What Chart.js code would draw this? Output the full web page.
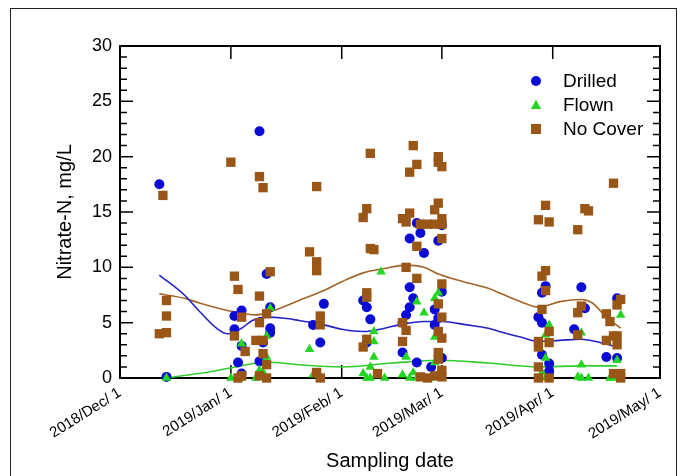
<!DOCTYPE html>
<html>
<head>
<meta charset="utf-8">
<script src="https://cdn.jsdelivr.net/npm/chart.js@4/dist/chart.umd.min.js"></script>
<style>
  body { margin: 0; background: #fff; }
  #wrap { position: relative; width: 685px; height: 476px; }
</style>
</head>
<body>
<div id="wrap"><canvas id="myChart" width="685" height="476"></canvas></div>
<script>
// month ticks on the date axis
const monthDates = ['2018-12-01', '2019-01-01', '2019-02-01', '2019-03-01', '2019-04-01', '2019-05-01'];
const monthLabels = ['2018/Dec/ 1', '2019/Jan/ 1', '2019/Feb/ 1', '2019/Mar/ 1', '2019/Apr/ 1', '2019/May/ 1'];
const seriesNames = ['Drilled', 'Flown', 'No Cover'];

// [sampling date, nitrate-N mg/L]
const drilled = [
  ['2018-12-12', 17.5], ['2018-12-14', 0.1],
  ['2019-01-09', 22.3], ['2019-01-11', 9.4], ['2019-01-04', 6.1], ['2019-01-02', 5.6], ['2019-01-12', 6.4],
  ['2019-01-02', 4.4], ['2019-01-12', 4.5], ['2019-01-12', 4.1], ['2019-01-10', 3.2], ['2019-01-04', 2.9],
  ['2019-01-03', 1.4], ['2019-01-09', 1.5], ['2019-01-04', 0.4],
  ['2019-01-27', 6.7], ['2019-01-24', 4.8], ['2019-01-26', 3.2], ['2019-02-07', 7.0], ['2019-02-08', 6.4],
  ['2019-02-09', 5.3], ['2019-02-08', 3.2],
  ['2019-02-22', 14.0], ['2019-03-01', 13.8], ['2019-02-23', 13.1], ['2019-02-20', 12.6], ['2019-02-28', 12.4],
  ['2019-02-24', 11.3], ['2019-02-20', 8.2], ['2019-03-01', 7.8], ['2019-02-21', 7.2], ['2019-02-20', 6.4],
  ['2019-02-27', 6.2], ['2019-02-19', 5.7], ['2019-02-28', 5.4], ['2019-02-18', 5.0], ['2019-02-27', 4.8],
  ['2019-02-18', 2.3], ['2019-03-01', 1.8], ['2019-02-22', 1.4], ['2019-02-26', 1.0],
  ['2019-03-30', 8.3], ['2019-03-29', 7.7], ['2019-04-09', 8.2], ['2019-04-19', 7.2], ['2019-04-10', 6.3],
  ['2019-03-28', 5.5], ['2019-03-29', 5.0], ['2019-04-07', 4.4], ['2019-03-29', 2.1], ['2019-04-16', 1.9],
  ['2019-04-19', 1.8], ['2019-03-31', 1.3], ['2019-03-31', 0.6]
];

const flown = [
  ['2018-12-14', 0],
  ['2019-01-12', 6.3], ['2019-01-11', 3.8], ['2019-01-04', 3.1], ['2019-01-11', 1.9], ['2019-01-11', 1.4],
  ['2019-01-09', 0.7], ['2019-01-10', 0.5], ['2019-01-01', 0], ['2019-01-04', 0], ['2019-01-08', 0], ['2019-01-11', 0],
  ['2019-01-23', 2.6], ['2019-01-24', 0.3], ['2019-02-12', 9.6], ['2019-02-10', 4.2], ['2019-02-10', 3.3],
  ['2019-02-10', 1.9], ['2019-02-09', 1.0], ['2019-02-07', 0.4], ['2019-02-08', 0], ['2019-02-09', 0], ['2019-02-13', 0],
  ['2019-02-28', 7.7], ['2019-02-27', 7.2], ['2019-02-22', 6.9], ['2019-02-24', 5.9], ['2019-02-27', 3.7],
  ['2019-02-19', 1.9], ['2019-02-27', 1.4], ['2019-02-18', 0.3], ['2019-02-20', 0], ['2019-02-21', 0.5],
  ['2019-02-22', 0], ['2019-02-26', 0], ['2019-03-01', 0],
  ['2019-03-31', 4.8], ['2019-03-30', 3.9], ['2019-03-30', 1.8], ['2019-03-29', 0.5], ['2019-03-30', 0],
  ['2019-04-09', 4.1], ['2019-04-09', 1.2], ['2019-04-08', 0.1], ['2019-04-09', 0], ['2019-04-11', 0],
  ['2019-04-20', 5.7], ['2019-04-19', 1.6], ['2019-04-17', 0], ['2019-04-18', 0]
];

const noCover = [
  ['2018-12-13', 16.5], ['2018-12-14', 7.0], ['2018-12-14', 5.6], ['2018-12-12', 4.0], ['2018-12-14', 4.1],
  ['2019-01-01', 19.5], ['2019-01-09', 18.2], ['2019-01-10', 17.2], ['2019-01-02', 9.2], ['2019-01-12', 9.6],
  ['2019-01-03', 8.0], ['2019-01-09', 7.4], ['2019-01-04', 5.5], ['2019-01-11', 5.8], ['2019-01-09', 5.0],
  ['2019-01-02', 3.8], ['2019-01-08', 3.4], ['2019-01-10', 3.4], ['2019-01-05', 2.4], ['2019-01-10', 2.2],
  ['2019-01-11', 1.2], ['2019-01-04', 0.2], ['2019-01-09', 0.2], ['2019-01-11', 0], ['2019-01-03', 0],
  ['2019-02-09', 20.3], ['2019-01-25', 17.3], ['2019-02-08', 15.3], ['2019-02-07', 14.5], ['2019-01-23', 11.4],
  ['2019-01-25', 10.5], ['2019-01-25', 9.7], ['2019-02-09', 11.7], ['2019-02-10', 11.6], ['2019-02-08', 7.7],
  ['2019-02-08', 7.3], ['2019-01-26', 5.6], ['2019-01-26', 4.8], ['2019-02-08', 3.5], ['2019-02-07', 2.8],
  ['2019-02-11', 0.4], ['2019-01-25', 0.5], ['2019-01-26', 0],
  ['2019-02-21', 21.0], ['2019-02-22', 19.3], ['2019-02-20', 18.6], ['2019-02-28', 20.0], ['2019-02-28', 19.5],
  ['2019-03-01', 19.1], ['2019-02-28', 15.8], ['2019-02-27', 15.2], ['2019-02-20', 14.9], ['2019-02-18', 14.4],
  ['2019-02-19', 14.1], ['2019-02-23', 13.9], ['2019-02-25', 13.9], ['2019-02-27', 13.9], ['2019-03-01', 13.9],
  ['2019-03-01', 14.4], ['2019-03-01', 12.6], ['2019-02-22', 11.9], ['2019-02-19', 10.0], ['2019-02-22', 9.0],
  ['2019-03-01', 8.5], ['2019-02-28', 6.7], ['2019-03-01', 5.5], ['2019-02-18', 5.0], ['2019-02-19', 4.3],
  ['2019-02-28', 4.2], ['2019-03-01', 3.6], ['2019-02-18', 3.3], ['2019-02-28', 2.3], ['2019-02-28', 1.7],
  ['2019-03-01', 0.7], ['2019-02-23', 0.1], ['2019-02-25', 0], ['2019-02-27', 0.2], ['2019-03-01', 0.1],
  ['2019-04-18', 17.6], ['2019-03-30', 15.6], ['2019-03-28', 14.3], ['2019-03-31', 14.1], ['2019-04-10', 15.3],
  ['2019-04-11', 15.1], ['2019-04-08', 13.4], ['2019-03-30', 9.7], ['2019-03-29', 9.2], ['2019-03-30', 7.9],
  ['2019-04-20', 7.1], ['2019-04-19', 6.6], ['2019-04-09', 6.5], ['2019-04-08', 5.9], ['2019-03-29', 6.2],
  ['2019-04-16', 5.8], ['2019-04-17', 5.1], ['2019-04-08', 3.9], ['2019-03-31', 4.2], ['2019-04-18', 3.8],
  ['2019-04-19', 3.8], ['2019-04-16', 3.4], ['2019-04-19', 3.0], ['2019-03-28', 3.3], ['2019-03-31', 3.2],
  ['2019-03-28', 2.8], ['2019-03-28', 1.0], ['2019-03-28', 0], ['2019-03-31', 0], ['2019-04-18', 0.4],
  ['2019-04-20', 0.4], ['2019-04-20', 0]
];

// smoothed trend curves
const drilledTrend = [
  ['2018-12-12', 9.3], ['2018-12-19', 7.5], ['2018-12-23', 6.1], ['2018-12-28', 4.5], ['2018-12-31', 4.0],
  ['2019-01-04', 4.5], ['2019-01-07', 5.2], ['2019-01-11', 5.5], ['2019-01-16', 5.4], ['2019-01-20', 5.2],
  ['2019-01-27', 4.8], ['2019-02-01', 4.4], ['2019-02-07', 4.2], ['2019-02-13', 4.5], ['2019-02-17', 4.8],
  ['2019-02-24', 5.1], ['2019-03-01', 5.1], ['2019-03-08', 4.8], ['2019-03-14', 4.5], ['2019-03-17', 4.2],
  ['2019-03-23', 3.7], ['2019-03-28', 3.3], ['2019-04-03', 3.4], ['2019-04-09', 3.5], ['2019-04-13', 3.3],
  ['2019-04-19', 2.8]
];
const flownTrend = [
  ['2018-12-14', 0], ['2018-12-23', 0.4], ['2019-01-01', 0.9], ['2019-01-11', 1.45], ['2019-01-20', 1.2],
  ['2019-02-01', 1.0], ['2019-02-15', 1.35], ['2019-02-28', 1.6], ['2019-03-14', 1.35], ['2019-03-28', 1.0],
  ['2019-04-09', 1.1], ['2019-04-19', 1.1]
];
const noCoverTrend = [
  ['2018-12-12', 7.6], ['2018-12-19', 7.2], ['2018-12-23', 6.8], ['2018-12-31', 6.1], ['2019-01-05', 5.8],
  ['2019-01-08', 5.7], ['2019-01-13', 6.1], ['2019-01-20', 7.0], ['2019-01-27', 7.9], ['2019-02-01', 8.7],
  ['2019-02-07', 9.5], ['2019-02-13', 9.9], ['2019-02-19', 10.2], ['2019-02-24', 10.0], ['2019-02-28', 9.4],
  ['2019-03-07', 8.7], ['2019-03-14', 8.1], ['2019-03-17', 7.7], ['2019-03-23', 6.9], ['2019-03-28', 6.4],
  ['2019-04-03', 6.9], ['2019-04-09', 7.1], ['2019-04-12', 6.8], ['2019-04-16', 5.5], ['2019-04-20', 4.5]
];

const FONT = '"Liberation Sans", Arial, sans-serif';
const BLUE = '#0b0bd6', GREEN = '#22d622', BROWN = '#995616';

// days since 2018-12-01
function dayOf(s) {
    const [y, m, d] = s.split('-').map(Number);
    return (Date.UTC(y, m - 1, d) - Date.UTC(2018, 11, 1)) / 86400000;
}
function toXY(rows) {
    return rows.map(r => ({ x: dayOf(r[0]), y: r[1] }));
}
const monthTicks = monthDates.map(dayOf);

function pointSet(label, rows, color, style, radius, order) {
    return {
        label: label, data: toXY(rows), pointStyle: style, pointRadius: radius,
        backgroundColor: color, borderColor: color, borderWidth: 0,
        showLine: false, clip: false, order: order
    };
}
function trendSet(rows, color) {
    return {
        label: 'trend', data: toXY(rows), showLine: true, pointRadius: 0,
        borderColor: color, borderWidth: 1.6, cubicInterpolationMode: 'monotone',
        fill: false, order: 10
    };
}

// inward ticks and frame around the plot
const framePlugin = {
    id: 'frame',
    beforeDatasetsDraw(chart) {
        const { ctx, chartArea: a, scales: { x, y } } = chart;
        ctx.save();
        ctx.strokeStyle = '#000';
        ctx.lineWidth = 2;
        ctx.strokeRect(a.left, a.top, a.right - a.left, a.bottom - a.top);
        ctx.lineWidth = 1.5;
        ctx.beginPath();
        for (let v = y.min; v <= y.max; v++) {
            const py = y.getPixelForValue(v);
            const len = v % 5 === 0 ? 13 : 7;
            ctx.moveTo(a.left, py); ctx.lineTo(a.left + len, py);
            ctx.moveTo(a.right, py); ctx.lineTo(a.right - len, py);
        }
        x.ticks.forEach(t => {
            const px = x.getPixelForValue(t.value);
            ctx.moveTo(px, a.top); ctx.lineTo(px, a.top + 13);
            ctx.moveTo(px, a.bottom); ctx.lineTo(px, a.bottom - 13);
        });
        ctx.stroke();
        ctx.restore();
    },
    afterDraw(chart) {
        const { ctx, chartArea: a } = chart;
        ctx.save();
        // outer figure border
        ctx.strokeStyle = '#222';
        ctx.lineWidth = 1;
        ctx.strokeRect(10.5, 8.5, 666, 500);
        // legend
        const styles = [[BLUE, 'circle'], [GREEN, 'triangle'], [BROWN, 'rect']];
        ctx.font = '19px ' + FONT;
        ctx.textBaseline = 'middle';
        styles.forEach((s, i) => {
            const mx = a.right - 124, my = a.top + 35 + i * 24;
            ctx.fillStyle = s[0];
            ctx.beginPath();
            if (s[1] === 'circle') {
                ctx.arc(mx, my, 5, 0, Math.PI * 2);
            } else if (s[1] === 'triangle') {
                ctx.moveTo(mx, my - 5.5); ctx.lineTo(mx + 5, my + 4); ctx.lineTo(mx - 5, my + 4); ctx.closePath();
            } else {
                ctx.rect(mx - 5, my - 5, 10, 10);
            }
            ctx.fill();
            ctx.fillStyle = '#000';
            ctx.fillText(seriesNames[i], a.right - 97, my + 1);
        });
        ctx.restore();
    }
};

const ctx = document.getElementById('myChart').getContext('2d');
new Chart(ctx, {
    type: 'scatter',
    data: {
        datasets: [
            pointSet(seriesNames[0], drilled, BLUE, 'circle', 5, 3),
            pointSet(seriesNames[1], flown, GREEN, 'triangle', 5.5, 2),
            pointSet(seriesNames[2], noCover, BROWN, 'rect', 6.6, 1),
            trendSet(drilledTrend, '#2424c4'),
            trendSet(flownTrend, '#2fce2f'),
            trendSet(noCoverTrend, '#a36428')
        ]
    },
    options: {
        responsive: false,
        animation: false,
        devicePixelRatio: 1,
        layout: { padding: { top: 46, right: 25, left: 0, bottom: 0 } },
        plugins: { legend: { display: false }, tooltip: { enabled: false } },
        scales: {
            x: {
                type: 'linear',
                min: monthTicks[0],
                max: monthTicks[monthTicks.length - 1],
                afterBuildTicks: s => { s.ticks = monthTicks.map(v => ({ value: v })); },
                afterFit: s => { s.height = 98; s.paddingLeft = 0; s.paddingRight = 0; },
                ticks: {
                    autoSkip: false, minRotation: 32, maxRotation: 32, padding: 6,
                    color: '#000', font: { family: FONT, size: 15 },
                    callback: (v, i) => monthLabels[i]
                },
                grid: { display: false, drawTicks: false },
                border: { display: false },
                title: {
                    display: true, text: 'Sampling date', color: '#000',
                    font: { family: FONT, size: 20 }, padding: { top: 0, bottom: 3 }
                }
            },
            y: {
                min: 0,
                max: 30,
                afterFit: s => { s.width = 120; },
                ticks: { stepSize: 5, padding: 8, color: '#000', font: { family: FONT, size: 18 } },
                grid: { display: false, drawTicks: false },
                border: { display: false },
                title: {
                    display: true, text: 'Nitrate-N, mg/L', color: '#000',
                    font: { family: FONT, size: 20 }, padding: { top: 53, bottom: 0 }
                }
            }
        }
    },
    plugins: [framePlugin]
});
</script>
</body>
</html>
